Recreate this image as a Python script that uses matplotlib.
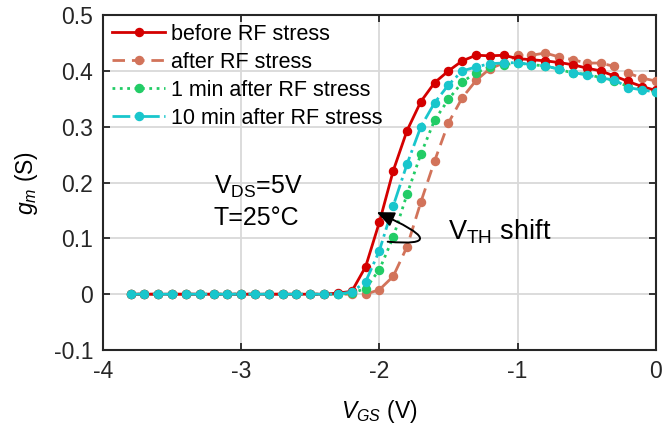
#!/usr/bin/env python

"""
Transconductance g_m vs V_GS before/after RF stress.
"""

import matplotlib
matplotlib.use("Agg")
import matplotlib.pyplot as plt
import numpy as np

plt.rc("font", family="Liberation Sans", size=15)
plt.rc("mathtext", fontset="custom", rm="Liberation Sans",
       it="Liberation Sans:italic", bf="Liberation Sans:bold")

# Data
vgs = np.round(np.arange(-3.8, 0.001, 0.1), 2)
flat = [0.0] * 15   # -3.8 ... -2.4

gmBefore = flat + [0.002, 0.005, 0.049, 0.129, 0.221, 0.293, 0.345, 0.379,
                   0.400, 0.418, 0.428, 0.427, 0.428, 0.422, 0.420, 0.418,
                   0.415, 0.411, 0.405, 0.400, 0.391, 0.381, 0.372, 0.365]
gmAfter = flat + [0.0, 0.0, 0.0, 0.008, 0.032, 0.085, 0.165, 0.239,
                  0.307, 0.352, 0.383, 0.404, 0.414, 0.428, 0.428, 0.432,
                  0.425, 0.420, 0.414, 0.414, 0.408, 0.396, 0.387, 0.382]
gm1min = flat + [0.0, 0.002, 0.010, 0.044, 0.102, 0.179, 0.251, 0.312,
                 0.349, 0.380, 0.397, 0.407, 0.411, 0.414, 0.411, 0.409,
                 0.403, 0.396, 0.394, 0.388, 0.382, 0.372, 0.367, 0.363]
gm10min = flat + [0.0, 0.004, 0.022, 0.078, 0.158, 0.233, 0.300, 0.343,
                  0.375, 0.400, 0.407, 0.413, 0.414, 0.415, 0.411, 0.409,
                  0.403, 0.397, 0.393, 0.387, 0.384, 0.370, 0.366, 0.362]

labels = ["before RF stress", "after RF stress",
          "1 min after RF stress", "10 min after RF stress"]
colors = ["#d40000", "#d2735a", "#22cc66", "#19c6cc"]

xTicks = [-4, -3, -2, -1, 0]
yTicks = [-0.1, 0, 0.1, 0.2, 0.3, 0.4, 0.5]

fig = plt.figure(figsize=(6.62, 4.30), dpi=100)
ax = fig.add_axes([0.1556, 0.186, 0.835, 0.779])

lw = 2.0
ms = 5.8
ax.plot(vgs, gmBefore, "-", color=colors[0], lw=lw, marker="o", ms=ms,
        label=labels[0], zorder=4)
ax.plot(vgs, gmAfter, color=colors[1], lw=lw, dashes=(4.5, 2.5), marker="o",
        ms=ms, label=labels[1], zorder=3)
ax.plot(vgs, gm1min, ":", color=colors[2], lw=lw, marker="o", ms=ms,
        label=labels[2], zorder=3)
ax.plot(vgs, gm10min, "-.", color=colors[3], lw=lw, marker="o", ms=ms,
        label=labels[3], zorder=5)

ax.set_xlim(-4, 0)
ax.set_ylim(-0.1, 0.5)
ax.set_xticks(xTicks)
ax.set_yticks(yTicks)
ax.set_xticklabels(["-4", "-3", "-2", "-1", "0"])
ax.set_yticklabels(["-0.1", "0", "0.1", "0.2", "0.3", "0.4", "0.5"])
ax.grid(True, color="#d9d9d9", lw=1.3)
ax.set_axisbelow(True)
ax.tick_params(direction="in", length=5, width=1.3, colors="#262626",
               top=True, right=True, labelsize=16.5, pad=7)
for sp in ax.spines.values():
    sp.set_color("#262626")
    sp.set_linewidth(1.5)

ax.set_xlabel(r"$V_{GS}$ (V)", fontsize=16.5, labelpad=11)
ax.set_ylabel(r"$g_m$ (S)", fontsize=16.5, labelpad=10)

ax.legend(loc="upper left", frameon=False, fontsize=15.5, handlelength=2.5,
          handletextpad=0.25, labelspacing=0.33, borderaxespad=0.1,
          borderpad=0.3)

# Annotations
ax.text(-3.2, 0.192, r"V$_{\mathrm{DS}}$=5V", fontsize=18, va="center",
        ha="left")
ax.text(-3.2, 0.137, "T=25\u00b0C", fontsize=18, va="center", ha="left")
ax.text(-1.5, 0.111, r"V$_{\mathrm{TH}}$ shift", fontsize=19.5, va="center",
        ha="left")
ax.annotate("", xy=(-2.02, 0.147), xytext=(-1.94, 0.094),
            arrowprops=dict(arrowstyle="-|>,head_length=0.7,head_width=0.3",
                            color="k", lw=1.4, shrinkA=0, shrinkB=0,
                            connectionstyle="angle3,angleA=-5,angleB=-24"),
            zorder=6)

fig.savefig("out.png", dpi=100)
